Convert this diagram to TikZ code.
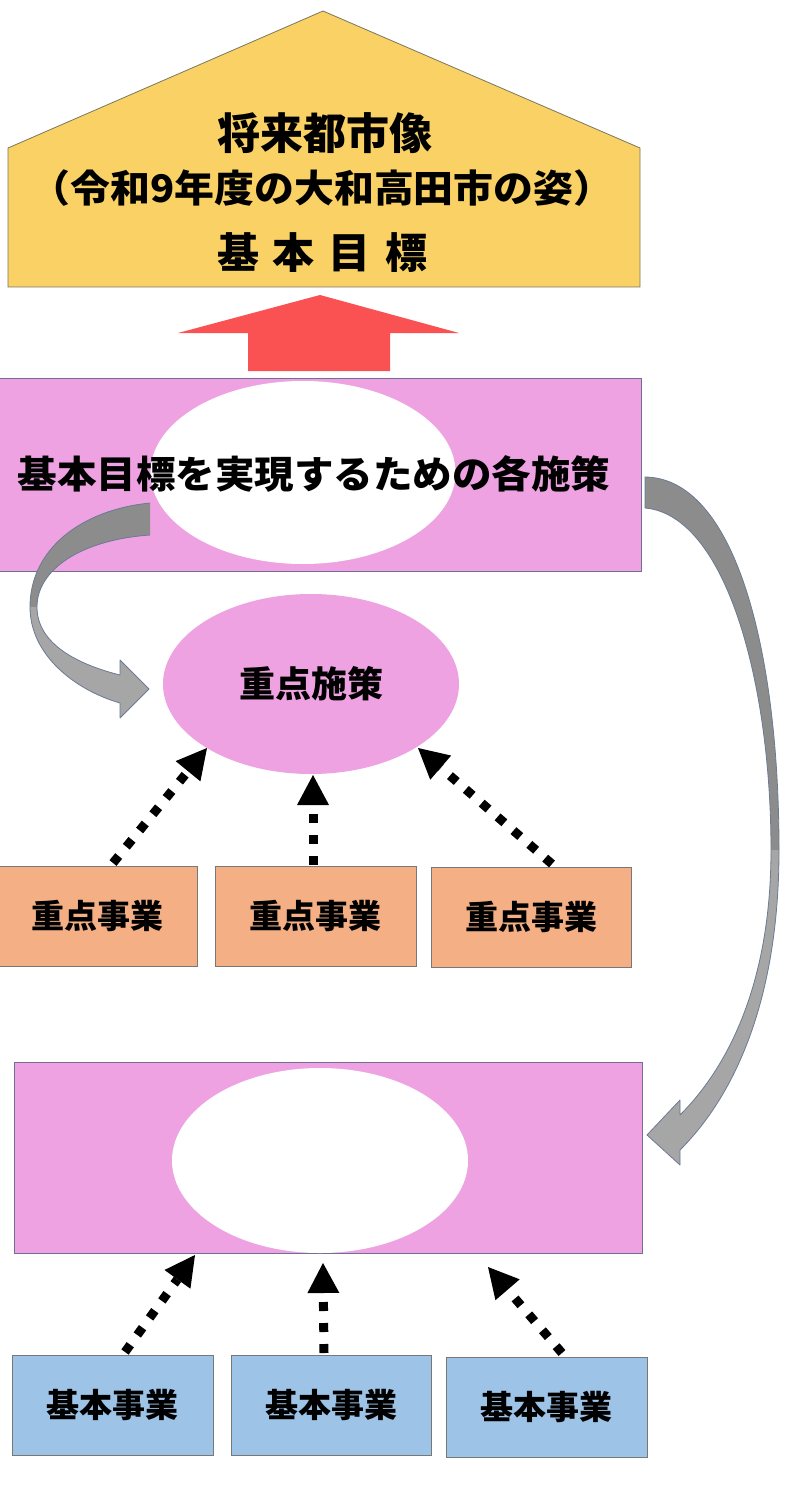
\documentclass[tikz,border=0pt]{standalone}
\usepackage{fontspec}
\newfontfamily\jp{Noto Sans CJK JP}
\usetikzlibrary{arrows.meta,shapes.geometric}
\definecolor{houseyel}{RGB}{249,209,101}
\definecolor{houseline}{RGB}{120,120,95}
\definecolor{redarrow}{RGB}{250,82,82}
\definecolor{pinkfill}{RGB}{238,162,226}
\definecolor{pinkline}{RGB}{115,110,150}
\definecolor{orangefill}{RGB}{244,176,132}
\definecolor{bluefill}{RGB}{157,195,230}
\definecolor{boxline}{RGB}{120,120,120}
\definecolor{curvedark}{RGB}{140,140,140}
\definecolor{curvelight}{RGB}{166,166,166}
\definecolor{curveline}{RGB}{106,123,147}
\tikzset{
  jtext/.style={font=\jp\bfseries\fontsize{#1pt}{#1pt}\selectfont, inner sep=0pt, text=black},
  pinkrect/.style={draw=pinkline, line width=0.8pt, fill=pinkfill, inner sep=0pt},
  whiteoval/.style={ellipse, fill=white, inner sep=0pt},
  jbox/.style={rectangle, draw=boxline, line width=0.9pt, fill=orangefill, minimum height=100pt, inner sep=0pt, font=\jp\bfseries\fontsize{33pt}{33pt}\selectfont},
  kbox/.style={jbox, fill=bluefill},
  dotarrow/.style={line width=9pt, dash pattern=on 9pt off 12pt, -{Triangle[length=30pt,width=32pt,line width=0pt]}},
  curveedge/.style={draw=curveline, line width=0.8pt, line join=round}
}
\begin{document}
\begin{tikzpicture}[x=1pt,y=-1pt]
\useasboundingbox (0,0) rectangle (787,1495);
\fill[white] (0,0) rectangle (787,1495);

% house
\draw[fill=houseyel, draw=houseline, line width=0.8pt] (8,148) -- (323,11) -- (640,148) -- (640,287) -- (8,287) -- cycle;
\node[jtext=43] (city) at (325,133) {将来都市像};
\node[jtext=38, xscale=1.05] (year) at (322,188) {（令和9年度の大和高田市の姿）};
\node[jtext=42] (goal) at (322,253) {基\hspace{14pt}本\hspace{14pt}目\hspace{14pt}標};

% red up arrow
\fill[redarrow] (248,371) -- (248,333) -- (178,333) -- (320,295) -- (459,333) -- (390,333) -- (390,371) -- cycle;

% policies box
\node[pinkrect, minimum width=643pt, minimum height=193pt] (policies) at (319.5,474.5) {};
\node[whiteoval, minimum width=305pt, minimum height=183pt] (policyoval) at (303,472.5) {};
\node[jtext=38, xscale=1.04] (policytext) at (314,474) {基本目標を実現するための各施策};

% priority policy ellipse
\node[ellipse, fill=pinkfill, minimum width=296pt, minimum height=180pt, inner sep=0pt, font=\jp\bfseries\fontsize{36pt}{36pt}\selectfont] (prio) at (311,684) {重点施策};

% priority projects
\node[jbox, minimum width=199pt] (pp1) at (97.5,916) {重点事業};
\node[jbox, minimum width=201pt] (pp2) at (315.5,916) {重点事業};
\node[jbox, minimum width=200pt] (pp3) at (531,917) {重点事業};

% lower box
\node[pinkrect, minimum width=628pt, minimum height=191pt] (basicpol) at (328,1157.5) {};
\node[whiteoval, minimum width=296pt, minimum height=185pt] (basicoval) at (320,1160.5) {};

% basic projects
\node[kbox, minimum width=201pt] (bp1) at (112.5,1405) {基本事業};
\node[kbox, minimum width=200pt] (bp2) at (331,1405) {基本事業};
\node[kbox, minimum width=201pt] (bp3) at (546.5,1407) {基本事業};

% dotted arrows to priority policy
\coordinate (s1) at (113,863); \coordinate (e1) at (207,748);
\coordinate (s2) at (313,865); \coordinate (e2) at (313,775);
\coordinate (s3) at (552,864); \coordinate (e3) at (418,748);
\draw[dotarrow] (s1) -- (e1);
\draw[dotarrow] (s2) -- (e2);
\draw[dotarrow] (s3) -- (e3);

% dotted arrows to lower box
\coordinate (u1) at (125,1352); \coordinate (f1) at (195,1255);
\coordinate (u2) at (324,1353); \coordinate (f2) at (323,1263);
\coordinate (u3) at (562,1353); \coordinate (f3) at (488,1267);
\draw[dotarrow] (u1) -- (f1);
\draw[dotarrow] (u2) -- (f2);
\draw[dotarrow] (u3) -- (f3);

% left curved arrow
\fill[curvedark] (150,503) .. controls (80,510) and (30,550) .. (30,607)
  -- (37,607) .. controls (37,570) and (80,540) .. (150,535) -- cycle;
\fill[curvelight] (30,607) .. controls (30,655) and (75,690) .. (120,703)
  -- (120,718) -- (149,689) -- (120,660) -- (120,675)
  .. controls (80,665) and (37,645) .. (37,607) -- cycle;
\draw[curveedge] (150,503) .. controls (80,510) and (30,550) .. (30,607)
  .. controls (30,655) and (75,690) .. (120,703)
  -- (120,718) -- (149,689) -- (120,660) -- (120,675)
  .. controls (80,665) and (37,645) .. (37,607)
  .. controls (37,570) and (80,540) .. (150,535);

% right curved arrow
\fill[curvedark] (645,477) .. controls (735,478) and (779,650) .. (779,850)
  -- (771,850) .. controls (771,680) and (725,515) .. (645,508) -- cycle;
\fill[curvelight] (779,850) .. controls (779,990) and (740,1090) .. (680,1150)
  -- (680,1165) -- (647,1135) -- (680,1100) -- (680,1115)
  .. controls (730,1065) and (771,980) .. (771,850) -- cycle;
\draw[curveedge] (645,477) .. controls (735,478) and (779,650) .. (779,850)
  .. controls (779,990) and (740,1090) .. (680,1150)
  -- (680,1165) -- (647,1135) -- (680,1100) -- (680,1115)
  .. controls (730,1065) and (771,980) .. (771,850)
  .. controls (771,680) and (725,515) .. (645,508) -- cycle;
\end{tikzpicture}
\end{document}
